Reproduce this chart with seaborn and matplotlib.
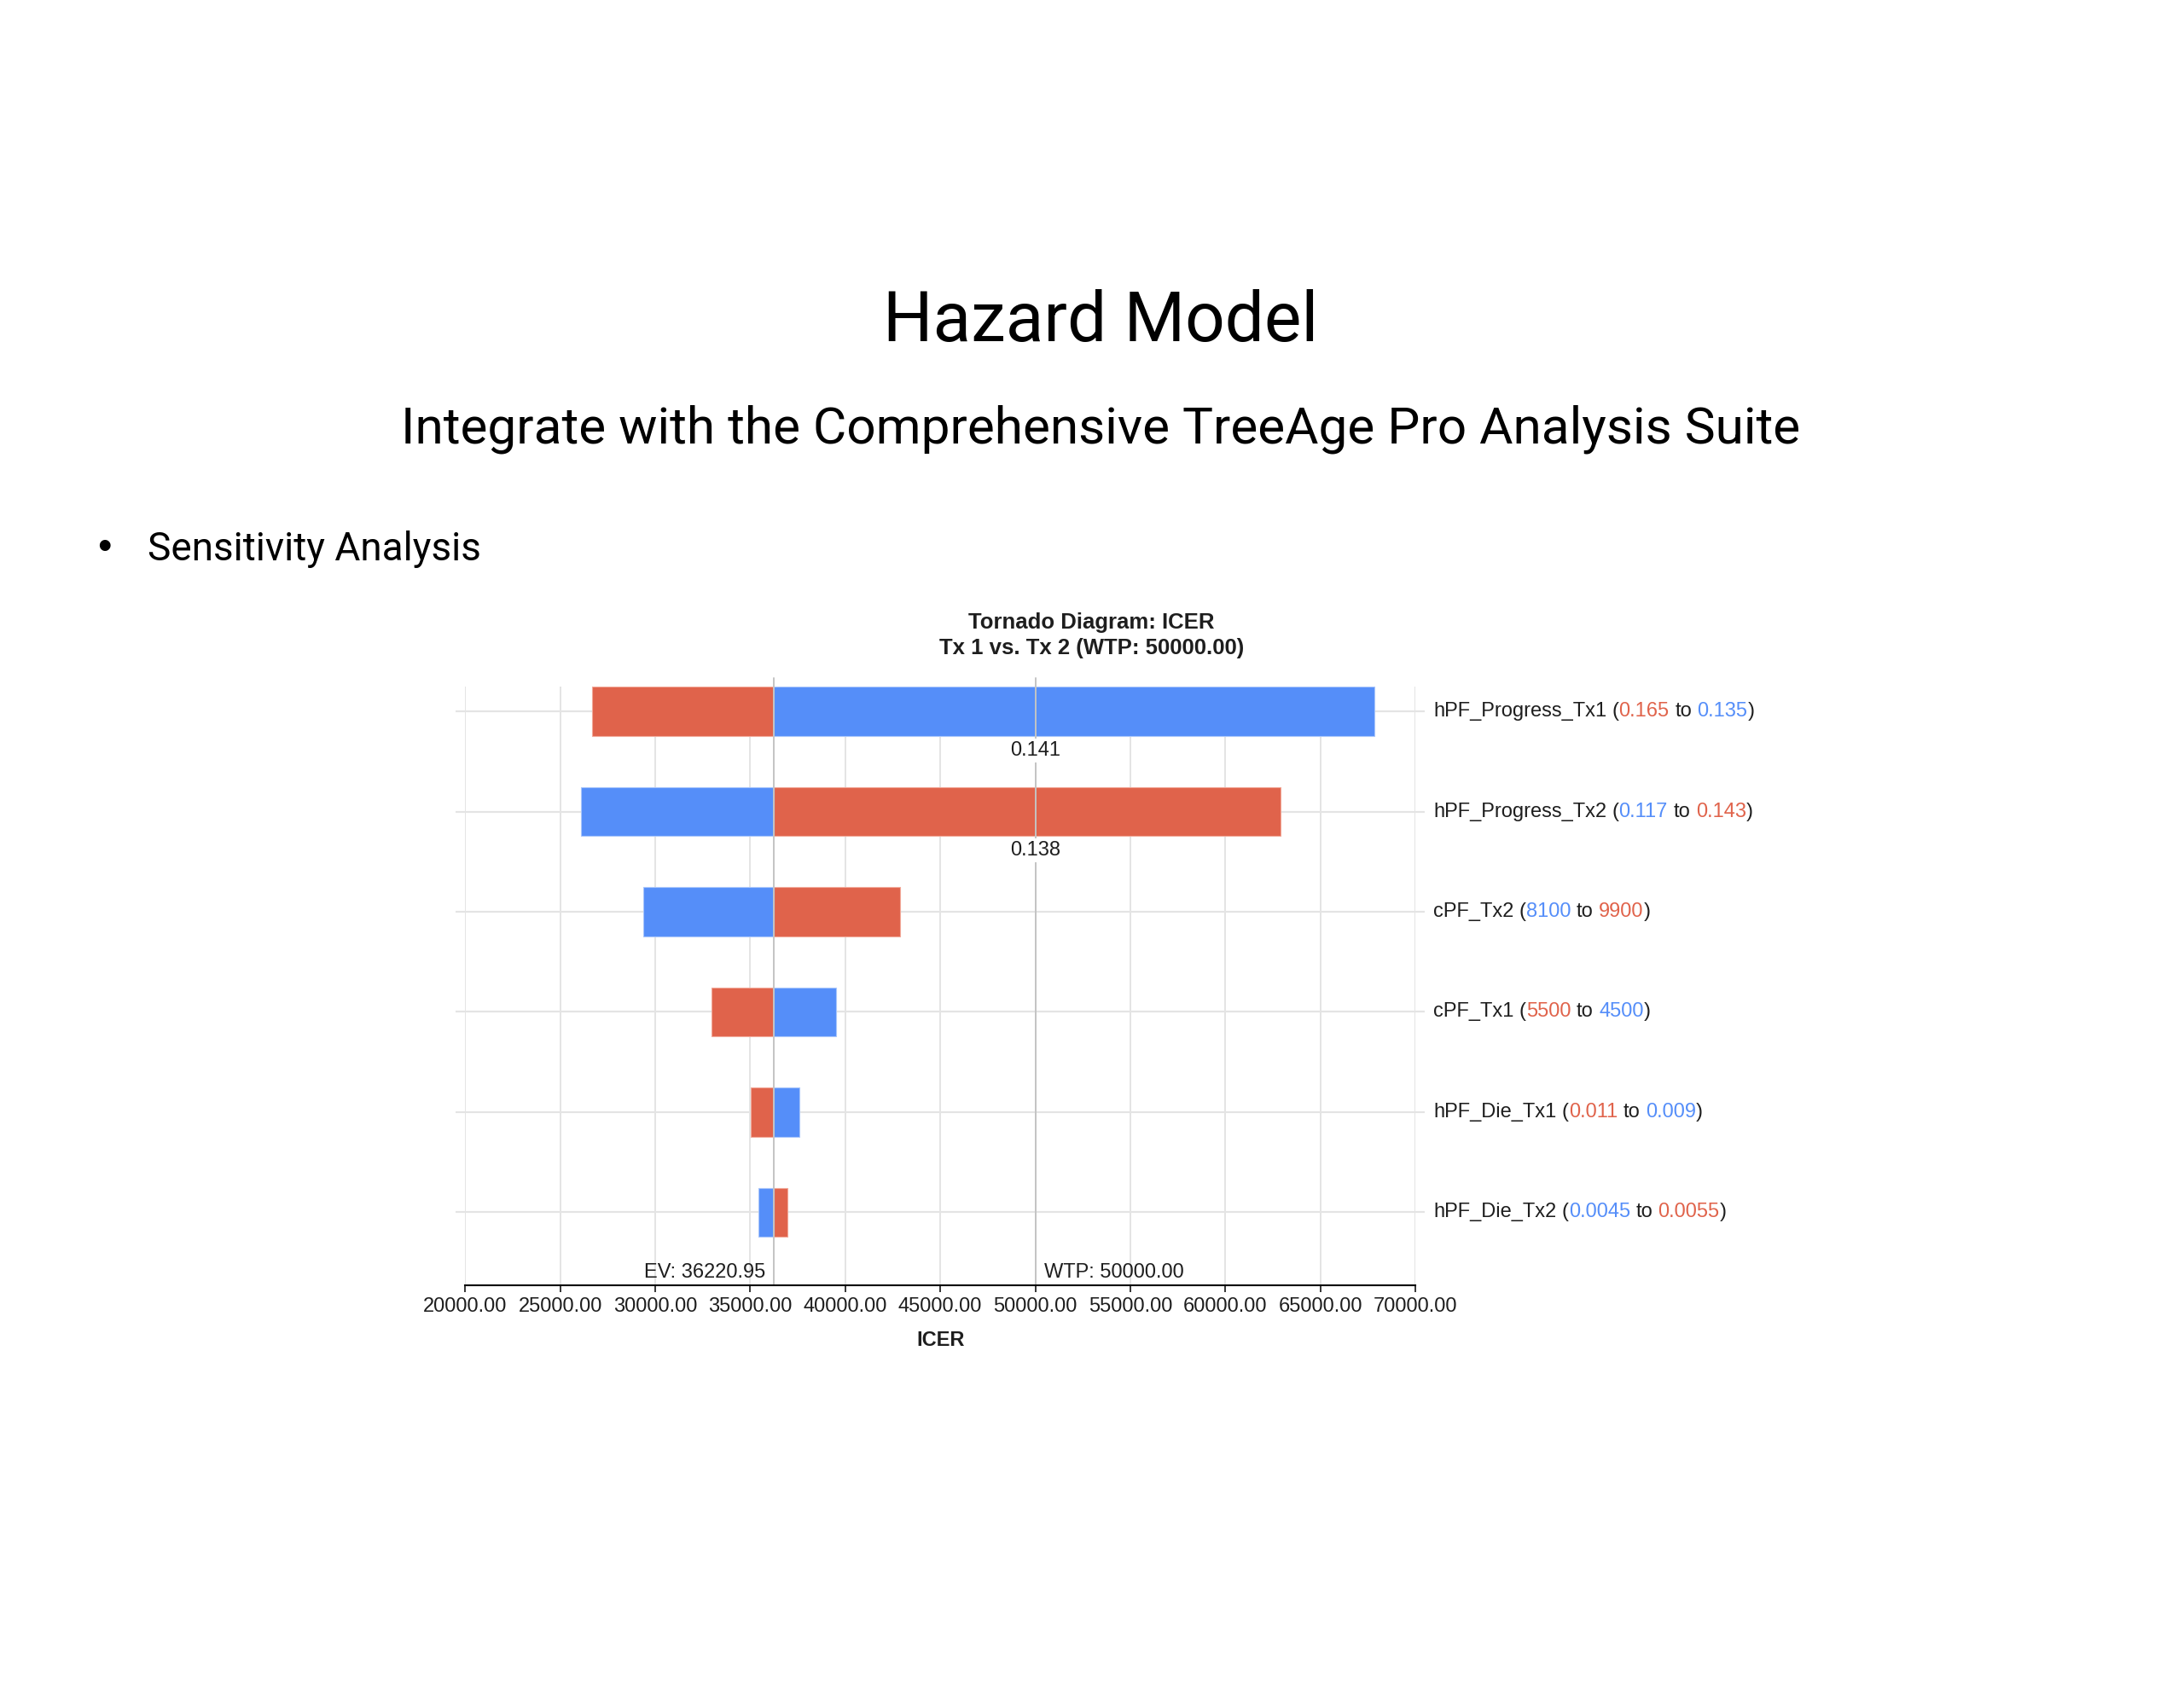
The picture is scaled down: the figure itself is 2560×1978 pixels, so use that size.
import matplotlib
matplotlib.use("Agg")
from matplotlib import pyplot as plt
import seaborn as sns

# tornado data
params = ["hPF_Progress_Tx1", "hPF_Progress_Tx2", "cPF_Tx2", "cPF_Tx1", "hPF_Die_Tx1", "hPF_Die_Tx2"]
input_low = ["0.135", "0.117", "8100", "4500", "0.009", "0.0045"]     # blue
input_high = ["0.165", "0.143", "9900", "5500", "0.011", "0.0055"]    # red
icer_at_low = [67830, 26114, 29359, 39500, 37567, 35440]
icer_at_high = [26660, 62903, 42900, 32958, 35022, 36939]
threshold = ["0.141", "0.138", None, None, None, None]
ev = 36220.95
wtp = 50000.00
x_ticks = [20000, 25000, 30000, 35000, 40000, 45000, 50000, 55000, 60000, 65000, 70000]

RED = "#E0634B"
BLUE = "#558EF9"
TXT = "#1E1E1E"
CHART_FONT = ["Liberation Sans", "DejaVu Sans"]
SLIDE_FONT = ["Roboto", "DejaVu Sans"]

sns.set_theme(style="white")
plt.rcParams["font.family"] = CHART_FONT

fig = plt.figure(figsize=(25.6, 19.78), dpi=100)
W, H = 2560, 1978

# slide text
fig.text(1290 / W, 1 - 400 / H, "Hazard Model", family=SLIDE_FONT, fontsize=59,
         ha="center", va="baseline", color="black")
fig.text(1290 / W, 1 - 520 / H, "Integrate with the Comprehensive TreeAge Pro Analysis Suite",
         family=SLIDE_FONT, fontsize=43.5, ha="center", va="baseline", color="black")
fig.text(122 / W, 1 - 655 / H, "\u2022", family=CHART_FONT, fontsize=34, ha="center",
         va="baseline", color="black")
fig.text(173 / W, 1 - 657 / H, "Sensitivity Analysis", family=SLIDE_FONT, fontsize=33,
         ha="left", va="baseline", color="black")

# chart
ax_left, ax_right, ax_top, ax_bot = 545.3, 1659.0, 805.0, 1507.0
ax = fig.add_axes([ax_left / W, 1 - ax_bot / H, (ax_right - ax_left) / W, (ax_bot - ax_top) / H])

n = len(params)
rows = list(range(n))
for i in rows:
    ax.barh(i, icer_at_high[i] - ev, left=ev, height=0.49, color=RED,
            edgecolor="#F2A898", linewidth=0.8, zorder=2)
    ax.barh(i, icer_at_low[i] - ev, left=ev, height=0.49, color=BLUE,
            edgecolor="#A9C6FB", linewidth=0.8, zorder=2)

ax.set_xlim(x_ticks[0], x_ticks[-1])
ax.set_ylim(5.728, -0.247)

# grid
for xv in x_ticks:
    ax.axvline(xv, color="#E4E4E4", lw=1.4, zorder=1)
ax.hlines(rows, 19500, 70500, color="#E4E4E4", lw=1.6, zorder=1, clip_on=False)

# EV and WTP reference lines
for xv in (ev, wtp):
    ax.plot([xv, xv], [5.728, -0.33], color="#C4C4C4", lw=1.4, zorder=3, clip_on=False)

ax.annotate(f"EV: {ev:.2f}", xy=(ev, 5.728), xytext=(-9, 9), textcoords="offset pixels",
            ha="right", va="baseline", fontsize=17, color=TXT)
ax.annotate(f"WTP: {wtp:.2f}", xy=(wtp, 5.728), xytext=(10, 9), textcoords="offset pixels",
            ha="left", va="baseline", fontsize=17, color=TXT)

for i in rows:
    if threshold[i]:
        ax.text(wtp, i + 0.39, threshold[i], ha="center", va="center", fontsize=17,
                color=TXT, zorder=4,
                bbox=dict(boxstyle="square,pad=0.12", facecolor="white", edgecolor="none"))

# row labels with coloured input values
ytrans = ax.get_yaxis_transform()
space = 6.5
for i in rows:
    lo_first = icer_at_low[i] < icer_at_high[i]
    first = (input_low[i], BLUE) if lo_first else (input_high[i], RED)
    second = (input_high[i], RED) if lo_first else (input_low[i], BLUE)
    t = ax.annotate(params[i], xy=(1, i), xycoords=ytrans, xytext=(21, 0),
                    textcoords="offset pixels", ha="left", va="center",
                    fontsize=17, color=TXT, annotation_clip=False)
    pieces = [("(", TXT, space), (first[0], first[1], 0), ("to", TXT, space),
              (second[0], second[1], space), (")", TXT, 0)]
    for s, c, gap in pieces:
        t = ax.annotate(s, xy=(1, 0), xycoords=t, xytext=(gap, 0), textcoords="offset pixels",
                        ha="left", va="bottom", fontsize=17, color=c)

# axes styling
for side in ("left", "right", "top"):
    ax.spines[side].set_visible(False)
ax.spines["bottom"].set_color("black")
ax.spines["bottom"].set_linewidth(1.5)
ax.spines["bottom"].set_zorder(5)
ax.set_yticks([])
ax.set_xticks(x_ticks)
ax.set_xticklabels([f"{v:.2f}" for v in x_ticks])
ax.tick_params(axis="x", bottom=True, direction="out", length=5.8, width=1.1,
               color="black", pad=4.3, labelsize=17, labelcolor=TXT)
ax.set_xlabel("ICER", fontsize=17, fontweight="bold", color=TXT, va="baseline")
ax.xaxis.set_label_coords(0.5, -(1578 - ax_bot) / (ax_bot - ax_top))

fig.text(1279 / W, 1 - 737 / H, "Tornado Diagram: ICER", fontsize=18.5, fontweight="bold",
         ha="center", va="baseline", color=TXT)
fig.text(1280 / W, 1 - 767 / H, "Tx 1 vs. Tx 2 (WTP: 50000.00)", fontsize=18.5,
         fontweight="bold", ha="center", va="baseline", color=TXT)

fig.savefig("out.png", dpi=100, facecolor="white")
